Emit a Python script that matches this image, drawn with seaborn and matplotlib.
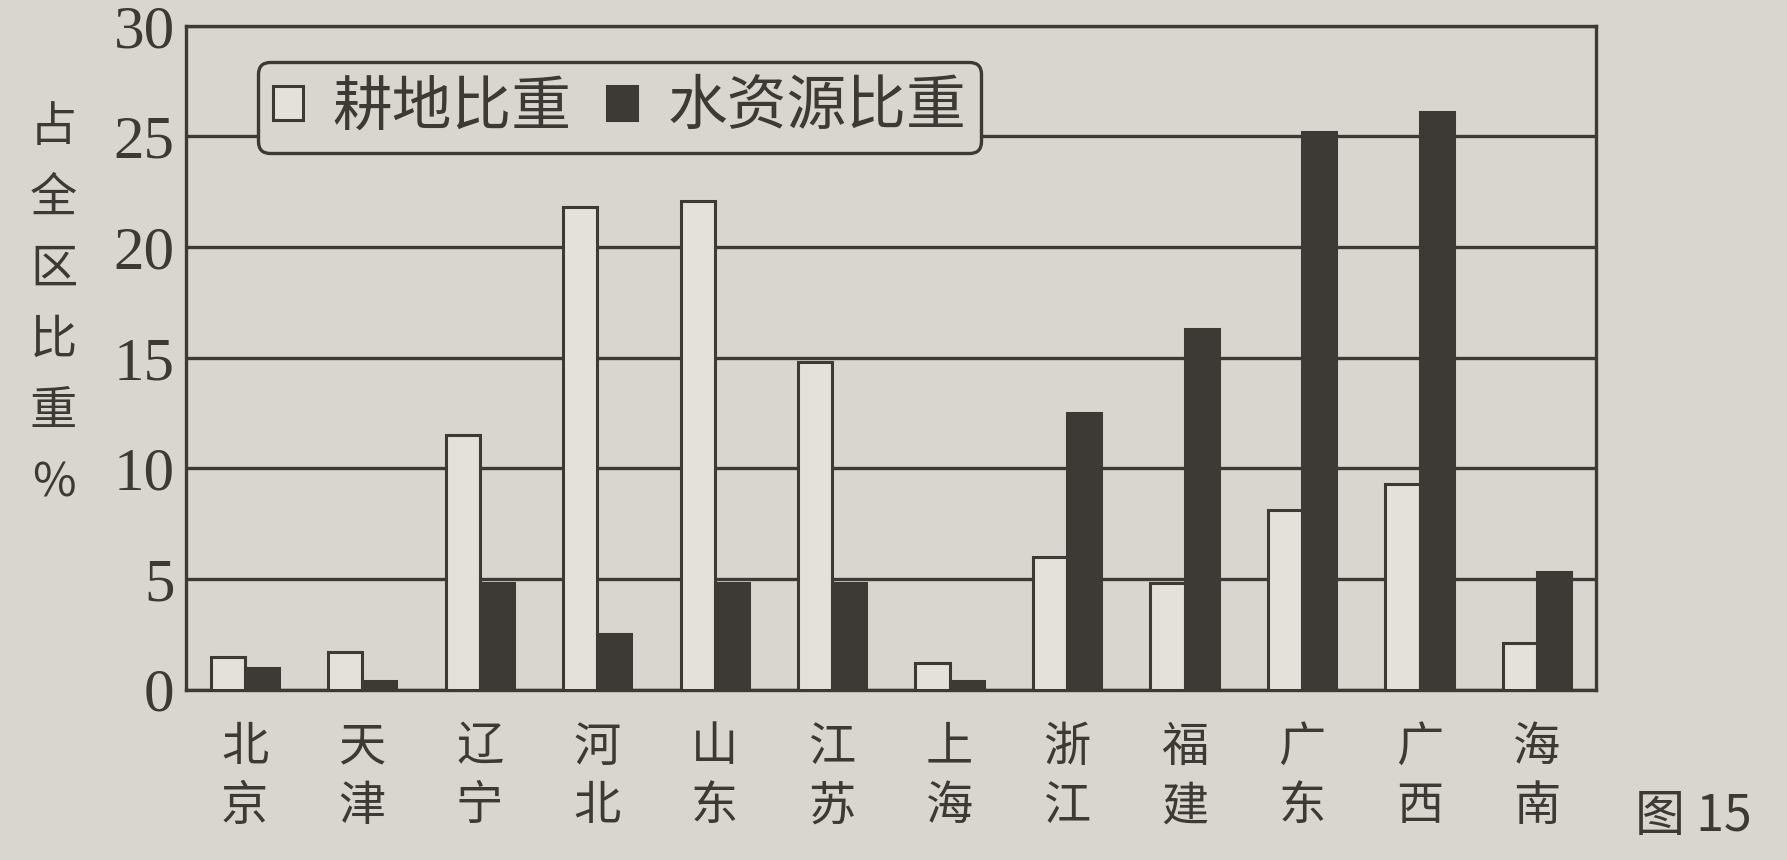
import numpy as np
import pandas as pd
import matplotlib
matplotlib.use("Agg")
import matplotlib.pyplot as plt
import seaborn as sns

provinces = ["北京", "天津", "辽宁", "河北", "山东", "江苏", "上海", "浙江", "福建", "广东", "广西", "海南"]
farmland = [1.5, 1.7, 11.5, 21.8, 22.1, 14.8, 1.2, 6.0, 4.8, 8.1, 9.3, 2.1]
water = [1.0, 0.4, 4.8, 2.5, 4.8, 4.8, 0.4, 12.5, 16.3, 25.2, 26.1, 5.3]
series_names = ["耕地比重", "水资源比重"]
yticks = [0, 5, 10, 15, 20, 25, 30]

df = pd.DataFrame({
    "省区": provinces * 2,
    "比重": farmland + water,
    "类别": [series_names[0]] * len(provinces) + [series_names[1]] * len(provinces),
})

paper = "#d9d6cf"
ink = "#3d3934"
light = "#e4e1da"

sns.set_theme(style="white")
plt.rcParams["font.family"] = ["Noto Sans CJK SC", "DejaVu Sans"]

fig = plt.figure(figsize=(17.87, 8.6), dpi=100, facecolor=paper)
ax = fig.add_axes([0.104, 0.198, 0.789, 0.772])
ax.set_facecolor(paper)

sns.barplot(data=df, x="省区", y="比重", hue="类别", hue_order=series_names,
            palette={series_names[0]: light, series_names[1]: ink},
            edgecolor=ink, linewidth=2.2, width=0.58, gap=0, saturation=1,
            ax=ax, zorder=3)

ax.set_ylim(0, 30)
ax.set_xlim(-0.5, len(provinces) - 0.5)
ax.set_yticks(yticks)
ax.set_yticklabels([str(t) for t in yticks], family="Liberation Serif", fontsize=44, color=ink)
ax.tick_params(axis="y", length=0, pad=8)
ax.yaxis.grid(True, color=ink, linewidth=2.4)
ax.set_axisbelow(True)

ax.set_xticks(range(len(provinces)))
ax.set_xticklabels(["\n".join(p) for p in provinces], fontsize=34, color=ink, linespacing=1.3)
ax.tick_params(axis="x", length=0, pad=24)
ax.set_xlabel("")
ax.set_ylabel("")

for s in ax.spines.values():
    s.set_color(ink)
    s.set_linewidth(2.4)

handles, labels = ax.get_legend_handles_labels()
ax.legend(handles, labels, ncol=2, loc="upper left", bbox_to_anchor=(0.03, 0.99),
          fontsize=43, frameon=True, edgecolor=ink, facecolor=paper, framealpha=1,
          fancybox=True, handlelength=0.5, handleheight=0.5, handletextpad=0.5,
          columnspacing=0.6, borderpad=0.25, labelcolor=ink).get_frame().set_linewidth(2.4)

fig.text(0.03, 0.645, "\n".join("占全区比重%"), fontsize=34, color=ink,
         ha="center", va="center", linespacing=1.6)
fig.text(0.915, 0.05, "图 15", fontsize=36, color=ink, ha="left", va="center")

fig.savefig("out.png", dpi=100, facecolor=paper)
